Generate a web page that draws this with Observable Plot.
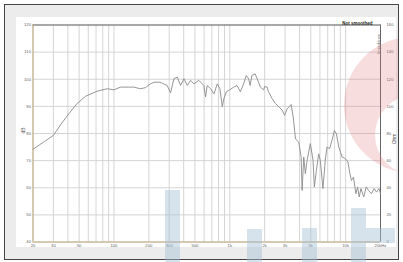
<!DOCTYPE html>
<html><head><meta charset="utf-8">
<script src="https://cdn.jsdelivr.net/npm/d3@7"></script>
<script src="https://cdn.jsdelivr.net/npm/@observablehq/plot@0.6"></script>
<style>
html,body{margin:0;padding:0;background:#fff;}
#wrap{position:relative;width:403px;height:262px;overflow:hidden;}
#outer{position:absolute;left:4px;top:4px;width:393px;height:254px;border:1.5px solid #444;background:#ececec;}
#inner{position:absolute;left:16px;top:17px;width:380px;height:230px;background:#fff;}
#chart{position:absolute;left:0;top:0;}
.wm{position:absolute;background:rgba(165,190,212,0.45);}
#ring{position:absolute;left:0;top:0;pointer-events:none;}
</style></head>
<body>
<div id="wrap">
  <div id="outer"></div>
  <div id="inner"></div>
  <div id="chart"></div>
  <svg id="ring" width="403" height="262"><clipPath id="clipr"><rect x="0" y="0" width="398" height="262"/></clipPath><path fill="rgba(225,120,125,0.25)" fill-rule="evenodd" d="M480,105 a68,68 0 1,0 -136,0 a68,68 0 1,0 136,0 Z M455,135 a40,40 0 1,0 -80,0 a40,40 0 1,0 80,0 Z" clip-path="url(#clipr)"/></svg>
  <div class="wm" style="left:165px;top:190px;width:15px;height:72px"></div>
  <div class="wm" style="left:247px;top:229px;width:15px;height:33px"></div>
  <div class="wm" style="left:302px;top:228px;width:15px;height:34px"></div>
  <div class="wm" style="left:351px;top:208px;width:15px;height:54px"></div>
  <div class="wm" style="left:366px;top:228px;width:29px;height:15px"></div>
</div>
<script>
const freq = [20,25,30,35,40.8,47.9,56.8,71.6,87.5,100,114,148,169,187,206,222,250,288,308,329,352,376,402,429,459,490,540,597,618,638,683,730,780,821,862,890,935,980,1082,1155,1233,1316,1388,1452,1500,1550,1657,1770,1838,1960,2000,2100,2156,2320,2480,2650,2830,2970,3130,3390,3530,3690,3940,4130,4210,4350,4490,4650,4960,5230,5370,5590,5850,6040,6370,6670,6900,7270,7630,8000,8330,8730,9330,9980,10460,10900,11220,11690,12260,12690,13110,13550,14340,15050,15780,16700,17620,18480,19400,20000];
const spl = [74.2,77.0,79.3,83.5,87.3,91.0,93.7,95.6,96.5,96.1,97.1,97.1,96.5,96.9,98.3,98.9,98.9,97.7,95.0,100.2,100.8,97.7,100.2,97.7,99.6,98.3,99.6,97.7,93.5,97.7,96.5,94.6,98.3,96.5,89.9,92.9,95.4,95.9,97.1,97.7,95.4,98.3,101.4,100.2,97.7,101.4,102.0,98.9,97.1,96.1,97.3,97.1,95.4,92.9,91.0,89.9,88.6,86.7,89.1,90.7,86.0,78.0,76.8,71.3,59.0,71.3,65.2,70.1,76.3,70.1,60.3,66.4,72.5,70.1,59.7,70.1,75.0,74.4,77.5,81.1,79.9,75.0,71.3,70.7,69.5,65.2,62.7,63.9,57.8,60.3,56.6,59.7,56.6,60.3,59.0,57.8,59.7,58.4,59.7,57.8];
const yTicks = [40,50,60,70,80,90,100,110,120];
const rightTicks = [0,20,40,60,80,100,120,140,160];
const xLabelTicks = [20,30,50,100,200,300,500,1000,2000,3000,5000,10000,20000];
const xLabelText = ["20","30","50","100","200","300","500","1k","2k","3k","5k","10k","20kHz"];
const xGrid = [];
for (const dec of [10,100,1000,10000]) for (let m=1;m<=9;m++){const v=m*dec; if(v>=20&&v<=20000) xGrid.push(v);}
const data = freq.map((f,i)=>({f, db: spl[i]}));
const xLabels = xLabelTicks.map((f,i)=>({f, t: xLabelText[i]}));
const rMap = v => 40 + v/2;  // right axis (0..160) onto left axis (40..120)

const plot = Plot.plot({
  width: 403, height: 262,
  marginLeft: 32.5, marginRight: 23, marginTop: 24.5, marginBottom: 20.5,
  style: {background: "transparent", fontFamily: "Liberation Sans, Arial, sans-serif", fontSize: "4.2px", color: "#666"},
  x: {type: "log", domain: [20, 20000], axis: null},
  y: {domain: [40, 120], axis: null},
  marks: [
    Plot.ruleX(xGrid, {stroke: "#d0d0d0", strokeWidth: 0.9}),
    Plot.ruleY(yTicks, {stroke: "#d0d0d0", strokeWidth: 0.9}),
    Plot.ruleY([120], {stroke: "#666", strokeWidth: 1}),
    Plot.ruleX([20000], {stroke: "#666", strokeWidth: 1}),
    Plot.ruleX([20], {stroke: "#c2a878", strokeWidth: 1}),
    Plot.ruleY([40], {stroke: "#c2a878", strokeWidth: 1}),
    Plot.line(data, {x: "f", y: "db", stroke: "#8a8a8a", strokeWidth: 0.9}),
    Plot.text(yTicks, {y: d => d, frameAnchor: "left", dx: -2, textAnchor: "end", text: d => String(d), fill: "#666"}),
    Plot.text(rightTicks, {y: rMap, frameAnchor: "right", dx: 6, textAnchor: "start", text: d => String(d), fill: "#666"}),
    Plot.text(xLabels, {x: "f", frameAnchor: "bottom", dy: 4.5, text: "t", fill: "#666"}),
    Plot.text(["dB"], {frameAnchor: "left", dx: -10, rotate: -90, fill: "#555", fontSize: 5}),
    Plot.text(["Ohm"], {frameAnchor: "right", dx: 14, rotate: -90, fill: "#555", fontSize: 5}),
    Plot.text(["Not smoothed"], {frameAnchor: "top-right", dx: -8, dy: -3, textAnchor: "end", fill: "#222", fontWeight: "bold", fontSize: 4.5}),
    Plot.text(["Impedance"], {frameAnchor: "top-right", dx: -3, dy: 9, rotate: -90, fill: "#666", fontSize: 4})
  ]
});
document.getElementById("chart").appendChild(plot);
</script>
</body></html>
